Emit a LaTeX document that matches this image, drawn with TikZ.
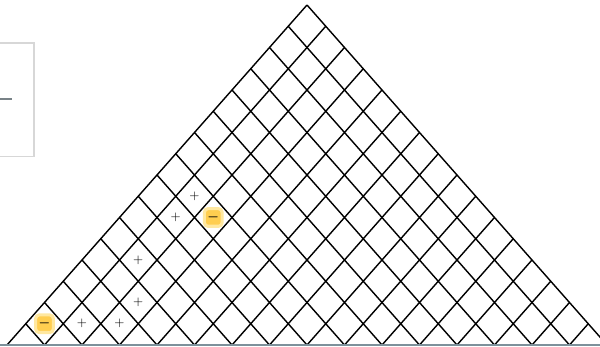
\documentclass[tikz,border=0pt]{standalone}
\usepackage{amsmath,amssymb}
\usetikzlibrary{positioning}
\definecolor{hlyellow}{RGB}{255,206,80}
\definecolor{hlglow}{RGB}{255,232,160}
\definecolor{baseblue}{RGB}{125,145,155}
\definecolor{boxgray}{RGB}{215,215,215}
\definecolor{dashgray}{RGB}{120,130,135}

\begin{document}
\begin{tikzpicture}[x=0.46875cm, y=0.53125cm,
  sign/.style={inner sep=0pt, font=\small},
  hl/.style={rectangle, rounded corners=2.5pt, fill=hlyellow, draw=hlglow, line width=2.2pt, minimum size=4.4mm, inner sep=0pt, font=\small\bfseries}]
\useasboundingbox (-0.3733,-0.094) rectangle (31.627,16.235);
\clip (-0.3733,-0.094) rectangle (31.627,16.235);

% side box
\draw[boxgray, line width=0.8pt] (-1,8.85) rectangle (1.44,14.21);
\draw[dashgray, line width=1.5pt] (-0.5,11.58) -- (0.27,11.58);

% lattice
\foreach \k in {0,...,16} {
  \draw[line width=1pt] (2*\k,0) -- (16+\k,16-\k);
  \draw[line width=1pt] (2*\k,0) -- (\k,\k);
}

% base line
\draw[baseblue, line width=1.4pt] (-0.5,0) -- (32,0);

% marks
\node[hl] (m1) at (2,1) {$\boldsymbol{-}$};
\node[hl] (m2) at (11,6) {$\boldsymbol{-}$};
\node[sign] (p1) at (4,1) {$+$};
\node[sign] (p2) at (6,1) {$+$};
\node[sign] (p3) at (7,2) {$+$};
\node[sign] (p4) at (7,4) {$+$};
\node[sign] (p5) at (9,6) {$+$};
\node[sign] (p6) at (10,7) {$+$};
\end{tikzpicture}
\end{document}
